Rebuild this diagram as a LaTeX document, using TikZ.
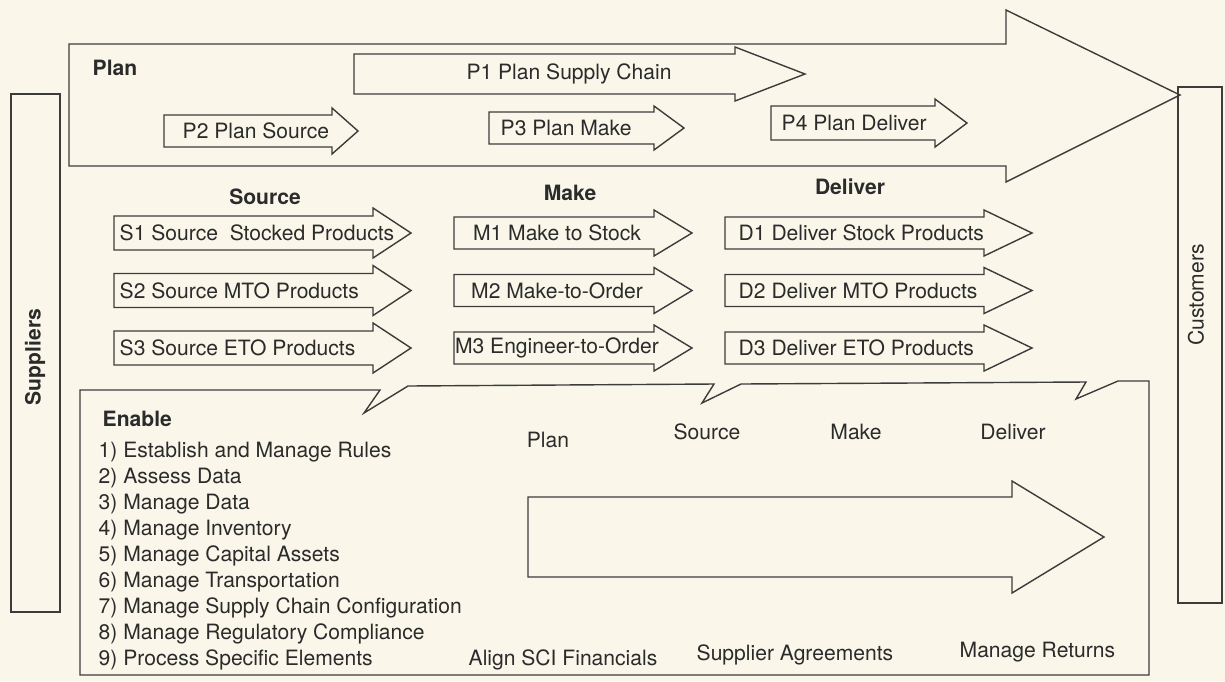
\documentclass[tikz,border=0pt]{standalone}
\usepackage{fontspec}
\setmainfont{TeX Gyre Heros}
\usetikzlibrary{positioning}
\definecolor{cpaper}{HTML}{FAF7EA}
\definecolor{cline}{HTML}{3C3C3C}
\definecolor{cink}{HTML}{2B2B2B}
\tikzset{
  every picture/.style={line width=0.8pt},
  every node/.style={font=\fontsize{12}{14}\selectfont, text=cink},
  outline/.style={draw=cline, line join=miter},
  lbl/.style={anchor=west, inner sep=0pt},
  head/.style={font=\fontsize{12}{14}\selectfont\bfseries, inner sep=0pt},
}
% left, body end, tip, centre y, body half height, head half height
\newcommand{\blockarrow}[6]{%
  \draw[outline] (#1,{#4-#5}) -- (#2,{#4-#5}) -- (#2,{#4-#6}) -- (#3,#4)
    -- (#2,{#4+#6}) -- (#2,{#4+#5}) -- (#1,{#4+#5}) -- cycle;}

\begin{document}
\begin{tikzpicture}[x=0.02cm, y=-0.02cm]
  \fill[cpaper] (0,0) rectangle (1225,681);
  \useasboundingbox (0,0) rectangle (1225,681);
  % plan band
  \draw[outline] (69,44) -- (1006,44) -- (1006,10) -- (1180,95) -- (1006,182) -- (1006,166) -- (69,166) -- cycle;
  \node[head, anchor=west] (plan) at (92,68) {Plan};
  \blockarrow{354}{735}{805}{74}{20}{27}
  \node[inner sep=0pt] (p1) at (569,74) {P1 Plan Supply Chain};
  \blockarrow{164}{332}{358}{131}{16}{23}
  \node[lbl] (p2) at (182,131) {P2 Plan Source};
  \blockarrow{489}{654}{684}{128}{16}{22}
  \node[lbl] (p3) at (500,128) {P3 Plan Make};
  \blockarrow{771}{935}{967}{123}{17}{24}
  \node[lbl] (p4) at (781,123) {P4 Plan Deliver};
  % source / make / deliver rows
  \node[head] (source) at (265,197) {Source};
  \node[head] (make) at (570,193) {Make};
  \node[head] (deliver) at (850,187) {Deliver};
  \foreach \s/\m/\d [count=\r] in {S1 Source\ \ Stocked Products/M1 Make to Stock/D1 Deliver Stock Products,
      S2 Source MTO Products/M2 Make-to-Order/D2 Deliver MTO Products,
      S3 Source ETO Products/M3 Engineer-to-Order/D3 Deliver ETO Products} {
    \pgfmathsetmacro{\cy}{233+57.5*(\r-1)}
    \blockarrow{114}{373}{411}{\cy}{17}{25}
    \node[lbl] (s\r) at (119,\cy) {\s};
    \blockarrow{454}{654}{692}{\cy}{16}{23}
    \node[inner sep=0pt] (m\r) at (557,\cy) {\m};
    \blockarrow{725}{984}{1032}{\cy}{16}{23}
    \node[lbl] (d\r) at (738,\cy) {\d};
  }
  % enable
  \draw[outline] (80,390) -- (380,390) -- (364,413) -- (408,386) -- (714,384) -- (702,403) -- (741,384)
    -- (1086,382) -- (1076,399) -- (1118,381) -- (1149,381) -- (1149,675) -- (80,675) -- cycle;
  \node[head, anchor=west] (enable) at (102,419) {Enable};
  \foreach \t [count=\i] in {Establish and Manage Rules, Assess Data, Manage Data, Manage Inventory,
      Manage Capital Assets, Manage Transportation, Manage Supply Chain Configuration,
      Manage Regulatory Compliance, Process Specific Elements}
    \node[lbl] (e\i) at (98,{452+26*(\i-1)}) {\i) \t};
  \node (eplan) at (548,440) {Plan};
  \node (esource) at (707,432) {Source};
  \node (emake) at (856,432) {Make};
  \node (edeliver) at (1013,432) {Deliver};
  \blockarrow{528}{1012}{1104}{537}{40}{56}
  \node[lbl] (fin) at (468,660) {Align SCI Financials};
  \node[lbl] (agree) at (696,655) {Supplier Agreements};
  \node[lbl] (returns) at (959,652) {Manage Returns};
  % suppliers and customers
  \draw[outline] (11,94) rectangle (60,612);
  \node[head, rotate=90] (suppliers) at (35,357) {Suppliers};
  \draw[outline] (1178,87) rectangle (1222,603);
  \node[rotate=90] (customers) at (1196,295) {Customers};
\end{tikzpicture}
\end{document}
